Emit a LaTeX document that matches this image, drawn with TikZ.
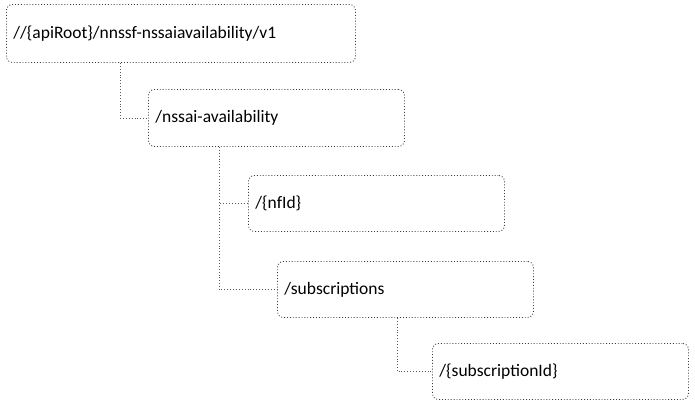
\documentclass[tikz,border=0pt]{standalone}
\usepackage{fontspec}
\setmainfont{Carlito}
\usetikzlibrary{positioning,calc}
\definecolor{boxline}{RGB}{60,60,60}
\definecolor{linkline}{RGB}{90,90,90}
\tikzset{
    res/.style={rectangle, rounded corners=6pt, draw=boxline, dotted, line width=0.9pt,
        anchor=north west, minimum height=56pt, inner xsep=7pt, align=left,
        text width=242pt, font=\fontsize{17.5}{20}\selectfont},
    link/.style={draw=linkline, dotted, line width=0.9pt},
}
\begin{document}
\begin{tikzpicture}[x=1pt, y=-1pt]
    \useasboundingbox (0,0) rectangle (695,410);

    % resources
    \node[res, text width=335pt, minimum height=58pt] (root) at (6,4) {//\{apiRoot\}/nnssf-nssaiavailability/v1};
    \node[res, minimum height=57pt] (nssai) at (148,89) {/nssai-availability};
    \node[res] (nfid) at (248,175) {/\{nfId\}};
    \node[res] (subs) at (277,261) {/subscriptions};
    \node[res] (subid) at (432,343) {/\{subscriptionId\}};

    % tree lines
    \draw[link] ([xshift=114pt]root.south west) |- (nssai.west);
    \draw[link] ([xshift=71pt]nssai.south west) |- (nfid.west);
    \draw[link] ([xshift=71pt]nssai.south west) |- (subs.west);
    \draw[link] ([xshift=120pt]subs.south west) |- (subid.west);
\end{tikzpicture}
\end{document}
